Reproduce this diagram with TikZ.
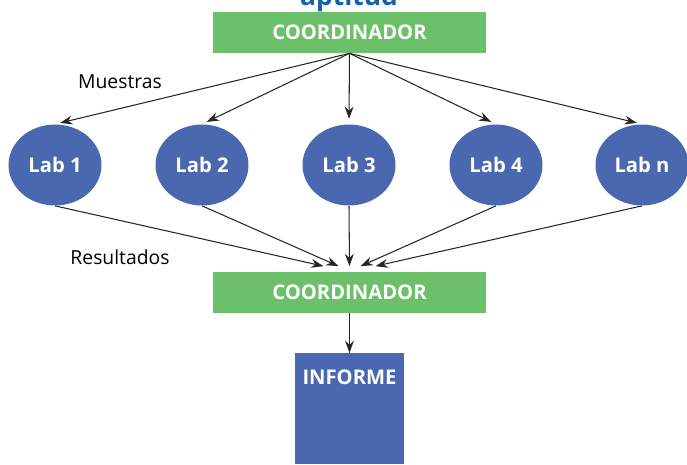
\documentclass[tikz,border=0pt]{standalone}
\usepackage{fontspec}
\setmainfont{Open Sans}
\usetikzlibrary{arrows.meta,shapes.geometric}
\definecolor{coordgreen}{RGB}{108,192,106}
\definecolor{labblue}{RGB}{74,104,176}
\definecolor{titleblue}{RGB}{21,96,172}
\begin{document}
\begin{tikzpicture}[x=0.02cm, y=-0.02cm, >={Stealth[length=7pt,width=5pt]},
    coordbox/.style={rectangle, fill=coordgreen, minimum width=5.46cm, minimum height=0.82cm, text=white, font=\bfseries\fontsize{11.5}{13}\selectfont},
    lab/.style={ellipse, fill=labblue, minimum width=1.86cm, minimum height=1.62cm, inner sep=0pt, text=white, font=\bfseries\fontsize{11.5}{13}\selectfont},
    flow/.style={->, semithick, black!85}]
    \useasboundingbox (0,0) rectangle (687,464);

    % Title (cut at top)
    \node[anchor=base, text=titleblue, font=\bfseries\fontsize{15}{17}\selectfont] (title) at (349,5) {aptitud};

    % Nodes
    \node[coordbox] (CoordA) at (349.5,32.5) {COORDINADOR};
    \node[lab] (Lab1) at (55,165) {Lab 1};
    \node[lab] (Lab2) at (202,165) {Lab 2};
    \node[lab] (Lab3) at (349,165) {Lab 3};
    \node[lab] (Lab4) at (496,165) {Lab 4};
    \node[lab] (LabN) at (642,165) {Lab n};
    \node[coordbox] (CoordB) at (349.5,292) {COORDINADOR};
    \node[rectangle, fill=labblue, minimum width=2.18cm, minimum height=2.22cm, anchor=north,
          label={[anchor=north, yshift=-0.22cm, text=white, font=\bfseries\fontsize{11.5}{13}\selectfont]north:INFORME}] (Informe) at (349.5,353) {};

    % Samples out
    \foreach \l in {Lab1,Lab2,Lab3,Lab4,LabN}
        \draw[flow, shorten >=3pt] (CoordA.south) -- (\l.north);

    % Results back
    \draw[flow] (Lab1.south) -- ([xshift=-0.52cm,yshift=0.1cm]CoordB.north);
    \draw[flow] (Lab2.south) -- ([xshift=-0.22cm,yshift=0.1cm]CoordB.north);
    \draw[flow] (Lab3.south) -- ([yshift=0.1cm]CoordB.north);
    \draw[flow] (Lab4.south) -- ([xshift=0.22cm,yshift=0.1cm]CoordB.north);
    \draw[flow] (LabN.south) -- ([xshift=0.52cm,yshift=0.1cm]CoordB.north);

    \draw[flow] (CoordB.south) -- (Informe.north);

    % Annotations
    \node[font=\fontsize{11}{13}\selectfont] (muestras) at (120,82) {Muestras};
    \node[font=\fontsize{11}{13}\selectfont] (resultados) at (120,257) {Resultados};
\end{tikzpicture}
\end{document}
